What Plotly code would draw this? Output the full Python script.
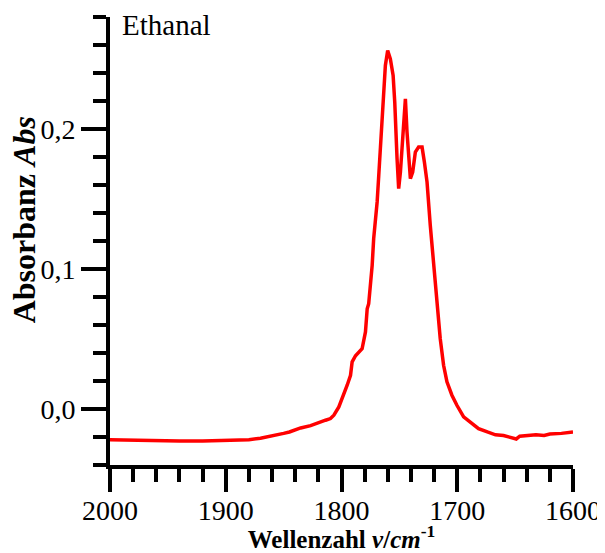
import plotly.graph_objects as go

wavenumber = [2000, 1980, 1960, 1940, 1920, 1900, 1880, 1870, 1860, 1850, 1845, 1840,
              1835.3, 1826.7, 1818.1, 1813.8, 1809.5, 1806.6, 1802.3, 1798.0, 1795.1,
              1792.2, 1790.8, 1787.9, 1785.1, 1782.2, 1779.3, 1777.8, 1776.5, 1773.5,
              1772.2, 1769.2, 1767.8, 1766.4, 1764.9, 1763.5, 1762.1, 1760.1, 1757.8,
              1755.4, 1754.0, 1752.0, 1750.6, 1749.1, 1746.3, 1744.8, 1743.4, 1740.5,
              1738.5, 1736.2, 1733.4, 1730.4, 1728.4, 1726.1, 1723.3, 1720.4, 1717.5,
              1714.7, 1711.8, 1708.9, 1704.6, 1700.3, 1694.5, 1688.8, 1681.6, 1674,
              1667, 1660, 1652, 1649, 1646, 1640, 1632, 1625, 1620, 1610, 1600]
absorbance = [-0.022, -0.0225, -0.0225, -0.023, -0.023, -0.0225, -0.022, -0.021, -0.0195,
              -0.0175, -0.0165, -0.015,
              -0.0136, -0.012, -0.0098, -0.0081, -0.0069, -0.0045, 0.0014, 0.0098, 0.0169,
              0.024, 0.0336, 0.038, 0.0407, 0.043, 0.055, 0.0716, 0.0752, 0.1026,
              0.1217, 0.1479, 0.167, 0.186, 0.2121, 0.2264, 0.2455, 0.2562, 0.2502,
              0.2383, 0.2193, 0.1788, 0.1574, 0.1693, 0.2074, 0.2216, 0.1979, 0.1645,
              0.1693, 0.1836, 0.1871, 0.1871, 0.1764, 0.1621, 0.1312, 0.1026, 0.0788,
              0.0502, 0.0312, 0.0193, 0.0098, 0.0026, -0.0057, -0.0093, -0.0141, -0.0165,
              -0.0185, -0.019, -0.0205, -0.0215, -0.0195, -0.019, -0.0185, -0.019, -0.018,
              -0.0175, -0.0165]

font_family = 'Liberation Serif, "Times New Roman", Times, serif'

fig = go.Figure()
fig.add_trace(go.Scatter(x=wavenumber, y=absorbance, mode="lines",
                         line=dict(color="rgb(255,0,0)", width=3.5),
                         showlegend=False))

fig.update_layout(
    width=597, height=545,
    margin=dict(l=102, r=32, t=9, b=88),
    plot_bgcolor="white", paper_bgcolor="white",
    separators=",.",
    font=dict(family=font_family, size=28, color="black"),
    xaxis=dict(
        range=[2000, 1600], autorange=False, automargin=False,
        tickmode="linear", tick0=1600, dtick=100,
        ticks="outside", ticklen=23, tickwidth=4, tickcolor="black",
        ticklabelstandoff=-6,
        showline=True, linewidth=4, linecolor="black",
        showgrid=False, zeroline=False,
        minor=dict(tickmode="linear", tick0=1600, dtick=20, ticks="outside",
                   ticklen=13, tickwidth=4, tickcolor="black", showgrid=False),
        tickfont=dict(family=font_family, size=28),
        title=dict(text="<b>Wellenzahl <i>ν</i>/<i>cm</i><sup>-1</sup></b>",
                   font=dict(family=font_family, size=25), standoff=2),
    ),
    yaxis=dict(
        range=[-0.0401, 0.2801], autorange=False, automargin=False,
        tickmode="linear", tick0=0, dtick=0.1, tickformat=".1f",
        ticks="outside", ticklen=25, tickwidth=4, tickcolor="black",
        showline=True, linewidth=4, linecolor="black",
        showgrid=False, zeroline=False,
        minor=dict(tickmode="linear", tick0=0, dtick=0.02, ticks="outside",
                   ticklen=13, tickwidth=4, tickcolor="black", showgrid=False),
        tickfont=dict(family=font_family, size=28),
    ),
    annotations=[
        dict(text="Ethanal", xref="paper", yref="paper", x=0.022, y=1.022,
             xanchor="left", yanchor="top", showarrow=False,
             font=dict(family=font_family, size=29, color="black")),
        dict(text="<b>Absorbanz <i>Abs</i></b>", xref="paper", yref="paper",
             x=-0.185, y=0.547, xanchor="center", yanchor="middle", textangle=-90,
             showarrow=False, font=dict(family=font_family, size=32, color="black")),
    ],
)

fig.write_html("out.html")
